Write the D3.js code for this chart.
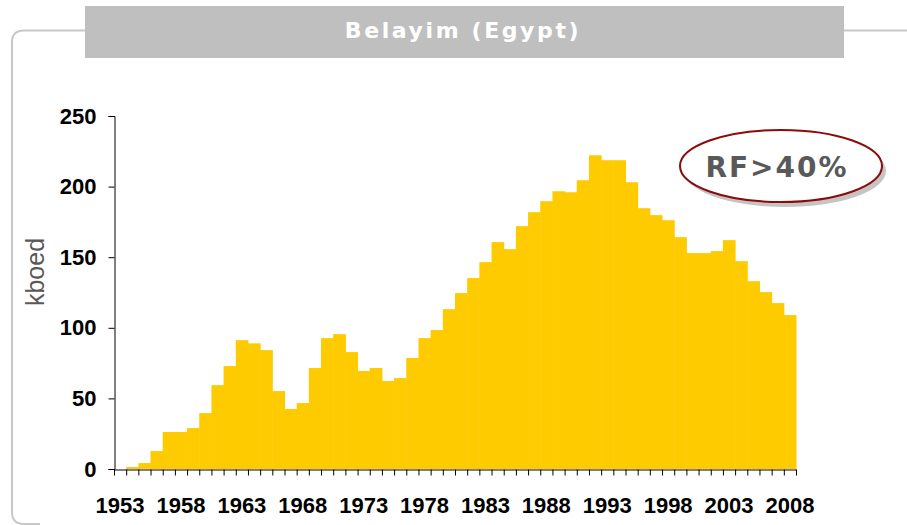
<!DOCTYPE html>
<html>
<head>
<meta charset="utf-8">
<script src="https://cdn.jsdelivr.net/npm/d3@7"></script>
<style>
  body { margin: 0; background: #fff; }
  svg { display: block; }
  .verd { font-family: "DejaVu Sans", Verdana, sans-serif; font-weight: bold; }
  .ar { font-family: "Liberation Sans", Arial, sans-serif; }
</style>
</head>
<body>
<div class="chart"></div>
<script>
// production by year, kboed
const years = d3.range(1953, 2009);
const production = [
  0, 1.4, 4.2, 12.7, 26.2, 26.2, 29, 39.6, 59.4, 72.9,
  91.3, 89, 84.2, 55.2, 42.5, 46.7, 71.5, 92.7, 95.5, 82.8,
  69.4, 71.5, 62.3, 64.4, 78.6, 92.7, 98.4, 113.2, 124.6, 135.2,
  146.5, 160.7, 155.7, 172, 181.9, 189.7, 196.7, 196, 204.5, 222.2,
  218.7, 218.7, 203.1, 184.7, 179.8, 176.2, 164.2, 152.9, 152.9, 154.3,
  162.1, 147.2, 133, 125.3, 117.5, 109
];
const yTicks = [0, 50, 100, 150, 200, 250];
const labelYears = [1953, 1958, 1963, 1968, 1973, 1978, 1983, 1988, 1993, 1998, 2003, 2008];

const data = years.map((yr, i) => ({ year: yr, value: production[i] }));

const width = 907;
const height = 525;

const svg = d3
  .select('.chart')
  .append('svg')
  .attr('width', width)
  .attr('height', height);

// frame with rounded corners
svg
  .append('path')
  .attr('d', 'M86,30.5 H24 Q12,30.5 12,42 V512 Q12,524 24,524 H40 M843,30.5 H907')
  .attr('fill', 'none')
  .attr('stroke', '#c8c8c8')
  .attr('stroke-width', 2);

// title box
svg
  .append('rect')
  .attr('x', 85)
  .attr('y', 6)
  .attr('width', 759)
  .attr('height', 52)
  .attr('fill', '#bfbfbf');

svg
  .append('text')
  .attr('class', 'verd')
  .attr('x', 463)
  .attr('y', 38)
  .attr('text-anchor', 'middle')
  .style('font-size', '22px')
  .style('letter-spacing', '2.6px')
  .attr('fill', '#fff')
  .text('Belayim (Egypt)');

const x = d3
  .scaleBand()
  .domain(years)
  .range([114, 796])
  .padding(0);

const xEdge = d3
  .scaleLinear()
  .domain([1953, 2009])
  .range([114, 796]);

const y = d3
  .scaleLinear()
  .domain([0, 250])
  .range([469, 116]);

// bars
svg
  .selectAll('rect.bar')
  .data(data)
  .enter()
  .append('rect')
  .attr('class', 'bar')
  .attr('x', (d) => x(d.year))
  .attr('y', (d) => y(d.value))
  .attr('width', x.bandwidth() + 0.5)
  .attr('height', (d) => y(0) - y(d.value))
  .attr('fill', '#fdcb00');

// y axis
const yAxis = svg
  .append('g')
  .attr('transform', 'translate(114.5,0)')
  .call(d3.axisLeft(y).tickValues(yTicks).tickSize(6).tickPadding(12));

yAxis
  .selectAll('text')
  .attr('class', 'ar')
  .style('font-weight', 'bold')
  .style('font-size', '22px')
  .attr('fill', '#000');

// x axis: ticks at year boundaries
svg
  .append('g')
  .attr('transform', 'translate(0,' + (y(0) + 0.5) + ')')
  .call(d3.axisBottom(xEdge).tickValues(d3.range(1953, 2010)).tickFormat('').tickSize(6).tickSizeOuter(0));

// x labels centred on bars
const xLabels = svg
  .append('g')
  .attr('transform', 'translate(0,' + y(0) + ')')
  .call(d3.axisBottom(x).tickValues(labelYears).tickSize(0).tickPadding(28));

xLabels.select('.domain').remove();
xLabels
  .selectAll('text')
  .attr('class', 'ar')
  .style('font-weight', 'bold')
  .style('font-size', '22px')
  .attr('fill', '#000');

// y label
svg
  .append('text')
  .attr('class', 'ar')
  .attr('transform', 'translate(44,272) rotate(-90)')
  .attr('text-anchor', 'middle')
  .style('font-size', '25px')
  .attr('fill', '#595959')
  .text('kboed');

// RF badge
svg
  .append('ellipse')
  .attr('cx', 785)
  .attr('cy', 171)
  .attr('rx', 101)
  .attr('ry', 36)
  .attr('fill', '#c4c4c4');

svg
  .append('ellipse')
  .attr('cx', 781)
  .attr('cy', 166)
  .attr('rx', 101)
  .attr('ry', 36)
  .attr('fill', '#fff')
  .attr('stroke', '#8b0a0a')
  .attr('stroke-width', 2);

svg
  .append('text')
  .attr('class', 'verd')
  .attr('x', 777)
  .attr('y', 177)
  .attr('text-anchor', 'middle')
  .style('font-size', '28px')
  .style('letter-spacing', '2px')
  .attr('fill', '#595959')
  .text('RF>40%');
</script>
</body>
</html>
